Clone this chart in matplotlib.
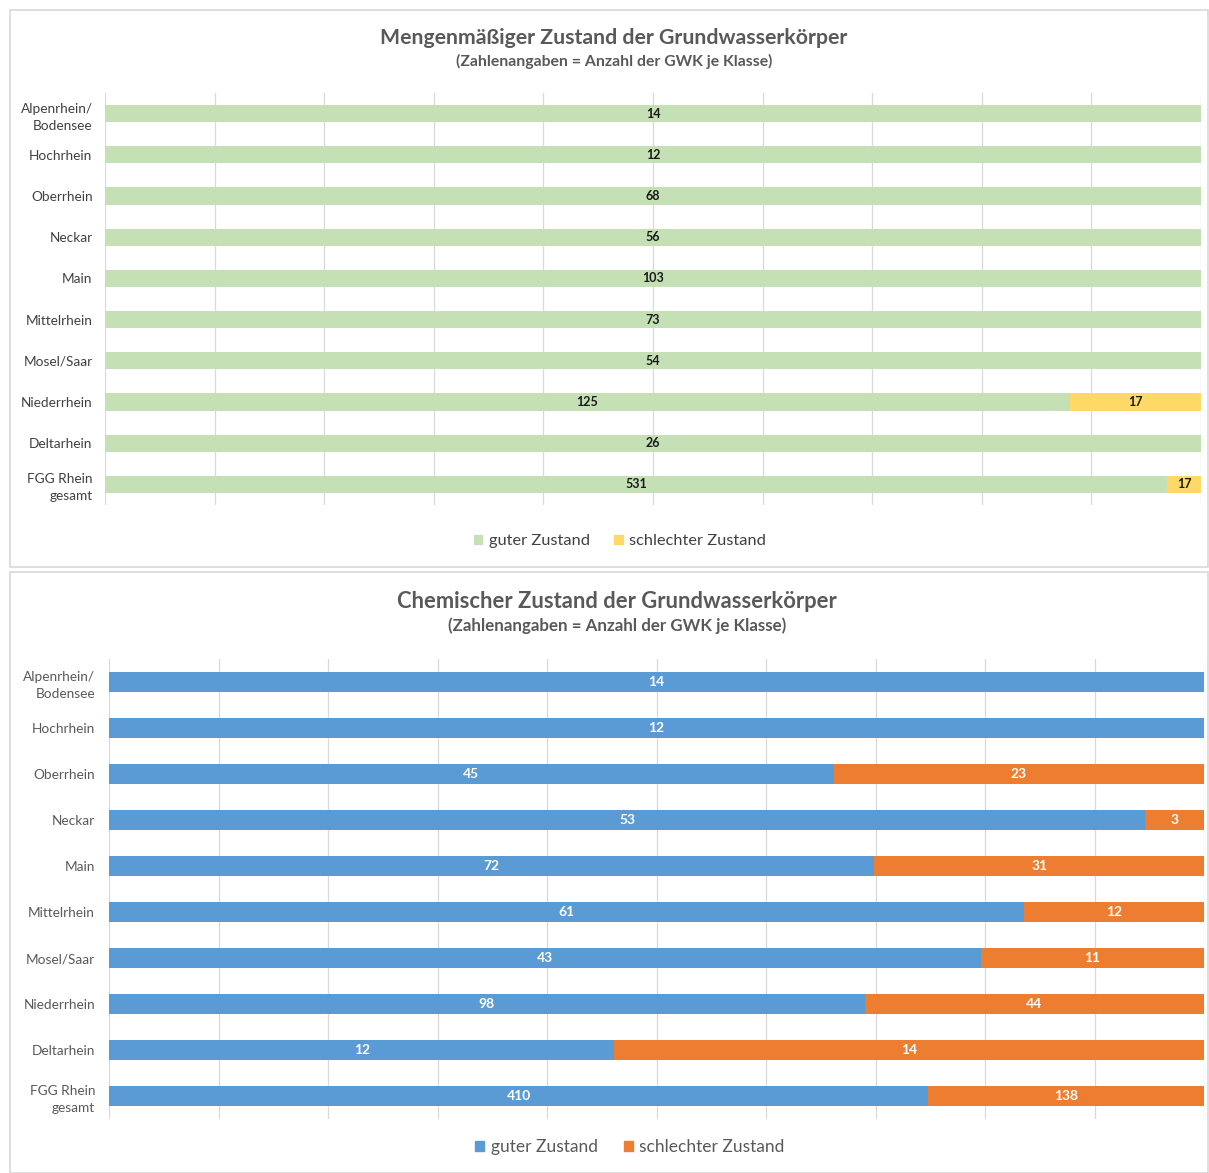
import numpy as np
import matplotlib.pyplot as plt
from matplotlib.patches import Rectangle, Patch

regions = ['Alpenrhein/\nBodensee', 'Hochrhein', 'Oberrhein', 'Neckar', 'Main',
           'Mittelrhein', 'Mosel/Saar', 'Niederrhein', 'Deltarhein', 'FGG Rhein\ngesamt']

menge_gut = [14, 12, 68, 56, 103, 73, 54, 125, 26, 531]
menge_schlecht = [0, 0, 0, 0, 0, 0, 0, 17, 0, 17]

chem_gut = [14, 12, 45, 53, 72, 61, 43, 98, 12, 410]
chem_schlecht = [0, 0, 23, 3, 31, 12, 11, 44, 14, 138]

legend_labels = ['guter Zustand', 'schlechter Zustand']

plt.rcParams['font.family'] = ['Lato', 'DejaVu Sans']

W, H = 1209, 1173
fig = plt.figure(figsize=(W / 100, H / 100), dpi=100)


def px_axes(left, top, right, bottom):
    return fig.add_axes([left / W, 1 - bottom / H, (right - left) / W, (bottom - top) / H])


def panel_box(left, top, right, bottom):
    fig.patches.append(Rectangle((left / W, 1 - bottom / H), (right - left) / W, (bottom - top) / H,
                                 transform=fig.transFigure, fill=False, edgecolor='#d9d9d9', lw=1.2))


def stacked_panel(ax, good, bad, colors, label_color, tick_color, label_size, pad):
    good = np.array(good, dtype=float)
    bad = np.array(bad, dtype=float)
    total = good + bad
    g_pct = good / total * 100
    b_pct = bad / total * 100
    y = np.arange(len(regions))
    ax.barh(y, g_pct, height=0.42, color=colors[0], zorder=2)
    ax.barh(y, b_pct, left=g_pct, height=0.42, color=colors[1], zorder=2)
    for i in range(len(regions)):
        ax.text(g_pct[i] / 2, y[i], str(int(good[i])), ha='center', va='center',
                fontsize=label_size, fontweight='bold', color=label_color, zorder=3)
        if bad[i] > 0:
            ax.text(g_pct[i] + b_pct[i] / 2, y[i], str(int(bad[i])), ha='center', va='center',
                    fontsize=label_size, fontweight='bold', color=label_color, zorder=3)
    ax.set_xlim(0, 100)
    ax.set_ylim(len(regions) - 0.5, -0.5)
    ax.set_yticks(y)
    ax.set_yticklabels(regions, fontsize=9.8, color=tick_color, linespacing=1.5)
    ax.set_xticks(np.arange(0, 101, 10))
    ax.set_xticklabels([])
    ax.grid(axis='x', color='#d9d9d9', lw=0.9, zorder=0)
    ax.tick_params(axis='y', length=0, pad=pad)
    ax.tick_params(axis='x', length=0)
    for s in ax.spines.values():
        s.set_visible(False)


# oben: mengenmaessiger Zustand
panel_box(10, 10, 1208, 567)
ax1 = px_axes(105, 93, 1201, 505)
stacked_panel(ax1, menge_gut, menge_schlecht, ['#c5e0b4', '#ffd966'], '#1a1a1a', '#404040', 9, 9)
fig.text(614 / W, 1 - 38 / H, 'Mengenmäßiger Zustand der Grundwasserkörper',
         ha='center', va='center', fontsize=15.3, fontweight='bold', color='#595959')
fig.text(614 / W, 1 - 61 / H, '(Zahlenangaben = Anzahl der GWK je Klasse)',
         ha='center', va='center', fontsize=11.3, fontweight='bold', color='#595959')
fig.legend(handles=[Patch(color='#c5e0b4'), Patch(color='#ffd966')], labels=legend_labels,
           loc='center', bbox_to_anchor=(620 / W, 1 - 541 / H), ncol=2, frameon=False,
           fontsize=11.8, handlelength=0.5, handleheight=0.5, handletextpad=0.4,
           columnspacing=1.5, labelcolor='#404040')

# unten: chemischer Zustand
panel_box(10, 572, 1208, 1173)
ax2 = px_axes(109, 659, 1204, 1119)
stacked_panel(ax2, chem_gut, chem_schlecht, ['#5b9bd5', '#ed7d31'], 'white', '#595959', 10, 10)
fig.text(617 / W, 1 - 602 / H, 'Chemischer Zustand der Grundwasserkörper',
         ha='center', va='center', fontsize=15.8, fontweight='bold', color='#595959')
fig.text(617 / W, 1 - 626 / H, '(Zahlenangaben = Anzahl der GWK je Klasse)',
         ha='center', va='center', fontsize=12.2, fontweight='bold', color='#595959')
fig.legend(handles=[Patch(color='#5b9bd5'), Patch(color='#ed7d31')], labels=legend_labels,
           loc='center', bbox_to_anchor=(630 / W, 1 - 1147 / H), ncol=2, frameon=False,
           fontsize=12.5, handlelength=0.5, handleheight=0.5, handletextpad=0.4,
           columnspacing=1.5, labelcolor='#595959')

fig.savefig('out.png', dpi=100, facecolor='white')
